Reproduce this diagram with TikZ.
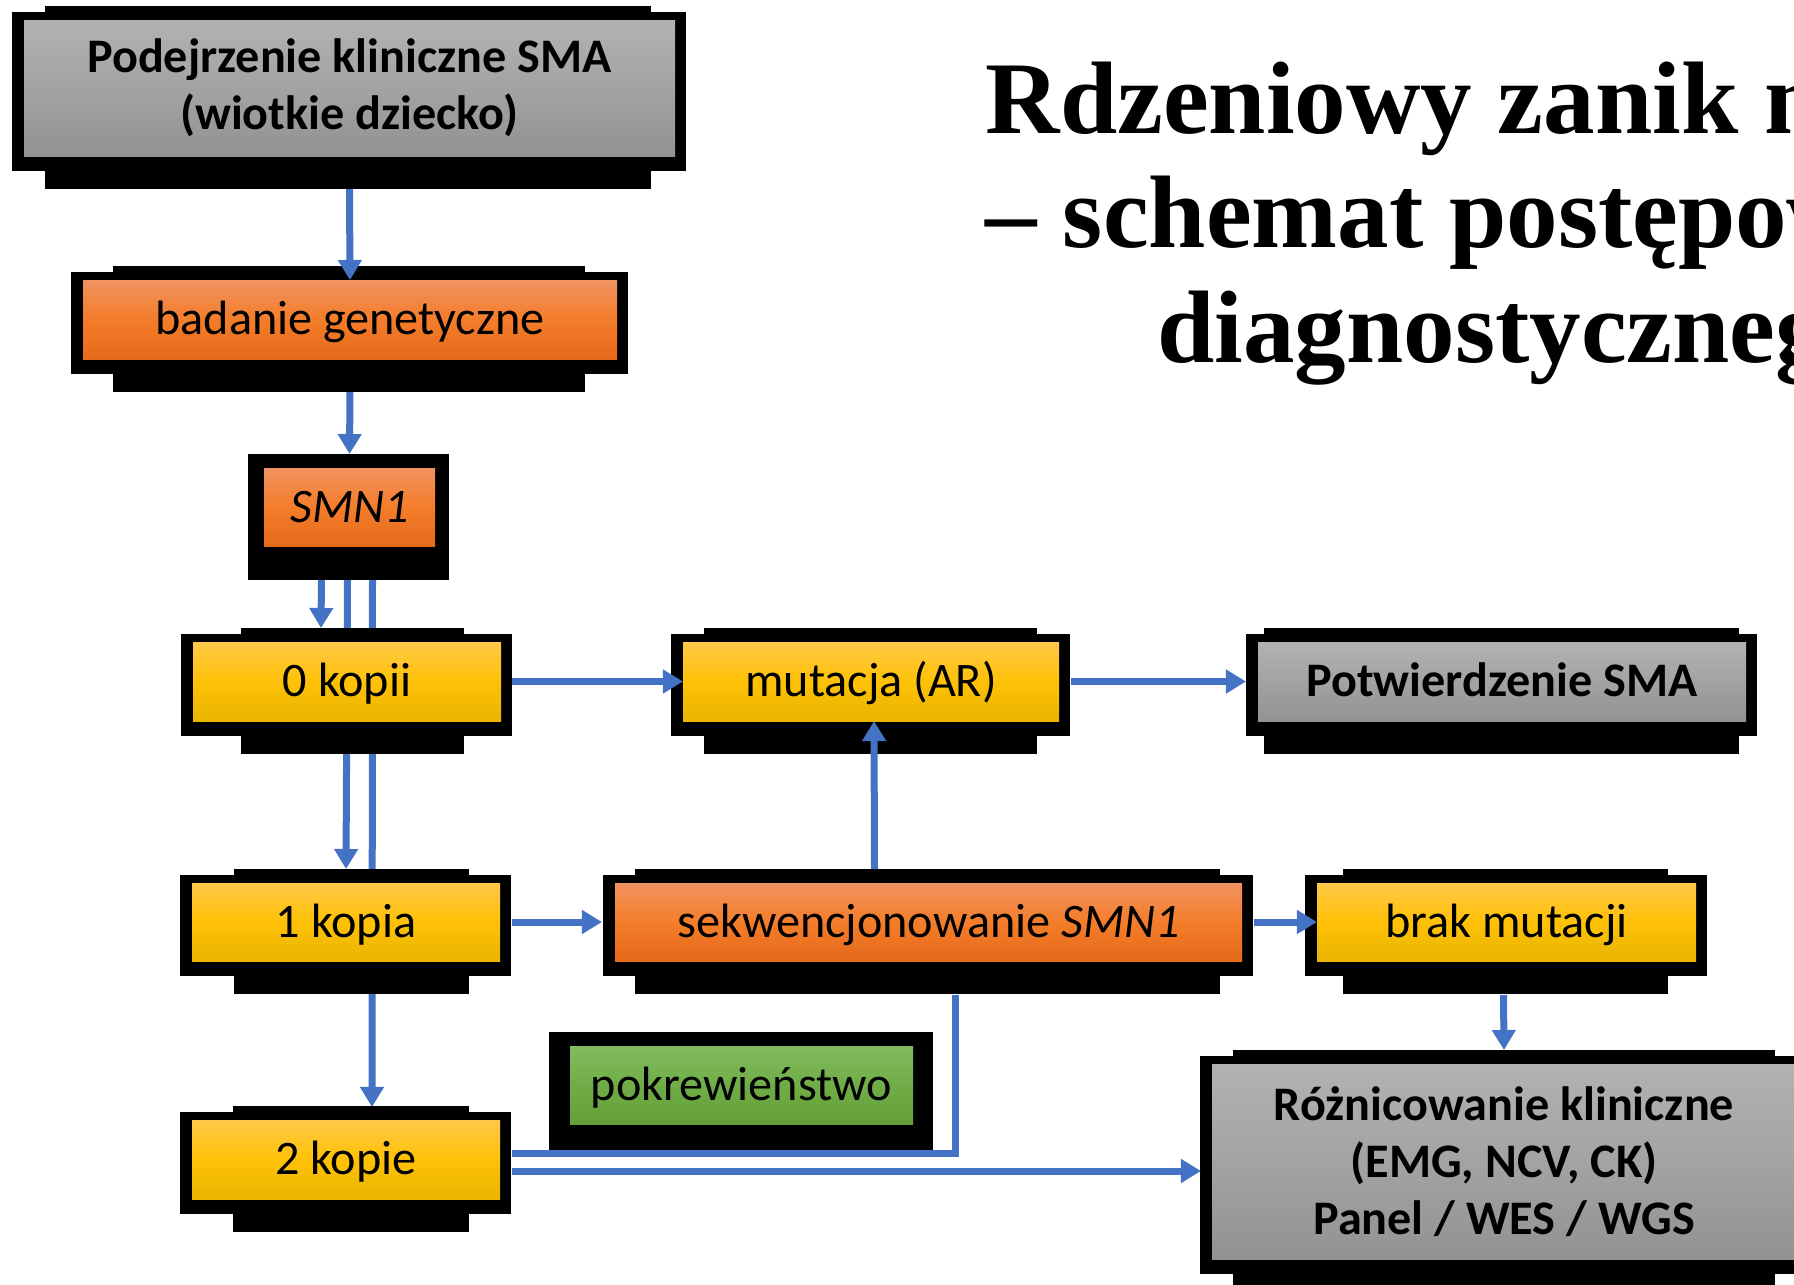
\documentclass[tikz,border=0pt]{standalone}
\usepackage{fontspec}
\setmainfont{Carlito}
\newfontfamily\titlefont{Liberation Serif}
\usetikzlibrary{calc, arrows.meta}

\newlength\unitpx
\setlength\unitpx{0.01cm}
\newcommand\smafont{\fontsize{13.7}{16.2}\selectfont}

\definecolor{smaBlue}{RGB}{68,114,196}
\definecolor{smaGrayTop}{RGB}{178,178,178}
\definecolor{smaGrayMid}{RGB}{163,163,163}
\definecolor{smaGrayBot}{RGB}{146,146,146}
\definecolor{smaOrangeTop}{RGB}{241,146,96}
\definecolor{smaOrangeMid}{RGB}{244,125,42}
\definecolor{smaOrangeBot}{RGB}{229,106,25}
\definecolor{smaYellowTop}{RGB}{255,200,72}
\definecolor{smaYellowMid}{RGB}{255,193,6}
\definecolor{smaYellowBot}{RGB}{232,181,0}
\definecolor{smaGreenTop}{RGB}{131,187,96}
\definecolor{smaGreenMid}{RGB}{112,173,71}
\definecolor{smaGreenBot}{RGB}{100,160,55}

\pgfdeclarelayer{links}
\pgfdeclarelayer{frames}
\pgfsetlayers{links,frames,main}

\begin{document}
\begin{tikzpicture}[x=1\unitpx, y=-1\unitpx,
    box/.style={rectangle, inner sep=0pt, outer sep=0pt, align=center, font=\smafont},
    oneline/.style={text height=11.6pt, text depth=2.8pt},
    dims/.style 2 args={minimum width=#1\unitpx, minimum height=#2\unitpx},
    graybox/.style={box, font=\smafont\bfseries, top color=smaGrayTop, bottom color=smaGrayBot, middle color=smaGrayMid},
    orangebox/.style={box, oneline, top color=smaOrangeTop, bottom color=smaOrangeBot, middle color=smaOrangeMid},
    yellowbox/.style={box, oneline, top color=smaYellowTop, bottom color=smaYellowBot, middle color=smaYellowMid},
    greenbox/.style={box, oneline, top color=smaGreenTop, bottom color=smaGreenBot, middle color=smaGreenMid},
    link/.style={draw=smaBlue, line width=7\unitpx},
    arr/.style={link, -{Triangle[width=6.5pt, length=5.7pt]}},
    title/.style={anchor=base, inner sep=0pt, font=\titlefont\bfseries\fontsize{29.3}{33}\selectfont}]
    \useasboundingbox (0,0) rectangle (1794,1284);
    \clip (0,0) rectangle (1794,1284);
    % title, cut off by the right edge
    \node [title] (title1) at (1518,133) {Rdzeniowy zanik mięśni};
    \node [title] (title2) at (1518,247) {– schemat postępowania};
    \node [title] (title3) at (1518,362) {diagnostycznego};
    % boxes
    \node [graybox,dims={651}{136}] (A) at (349.5,88) {Podejrzenie kliniczne SMA\\(wiotkie dziecko)};
    \node [orangebox,dims={534}{79}] (B) at (350,319.5) {badanie genetyczne};
    \node [orangebox,dims={171}{78}] (C) at (349.5,507) {\itshape SMN1};
    \node [yellowbox,dims={308}{79}] (D0) at (347,681.5) {0 kopii};
    \node [yellowbox,dims={376}{79}] (M) at (871,681.5) {mutacja (AR)};
    \node [graybox,oneline,dims={488}{79}] (P) at (1502,681.5) {Potwierdzenie SMA};
    \node [yellowbox,dims={308}{78}] (D1) at (346,922) {1 kopia};
    \node [orangebox,dims={627}{78}] (S) at (928.5,922) {sekwencjonowanie \textit{SMN1}};
    \node [yellowbox,dims={379}{78}] (N) at (1506.5,922) {brak mutacji};
    \node [greenbox,dims={343}{78}] (K) at (741.5,1085) {pokrewieństwo};
    \node [yellowbox,dims={308}{79}] (D2) at (346,1159.5) {2 kopie};
    \node [graybox,dims={584}{195}] (R) at (1504,1161.5) {Różnicowanie kliniczne\\(EMG, NCV, CK)\\Panel / WES / WGS};
    % black frames with their tabs
    \begin{pgfonlayer}{frames}
        \foreach \n/\l/\r in {A/21/24, B/30/32, D0/48/37, M/21/22, P/6/7, D1/42/31, S/20/22, N/26/28, D2/41/31, R/21/21} {
            \fill ([shift={(-12,-8)}]\n.north west) rectangle ([shift={(11,15)}]\n.south east);
            \fill ([shift={(\l,-14)}]\n.north west) rectangle ([shift={(-\r,33)}]\n.south east);
        }
        \fill ([shift={(-16,-14)}]C.north west) rectangle ([shift={(14,34)}]C.south east);
        \fill ([shift={(-21,-14)}]K.north west) rectangle ([shift={(20,26)}]K.south east);
    \end{pgfonlayer}
    % connectors
    \draw[arr] ([yshift=-33\unitpx]A.south) -- (B.north);
    \draw[arr] ([yshift=-33\unitpx]B.south) -- ([yshift=14\unitpx]C.north);
    \draw[arr] ([xshift=-28\unitpx,yshift=-34\unitpx]C.south) -- ([xshift=-26\unitpx,yshift=14\unitpx]D0.north);
    \begin{pgfonlayer}{links}
        \draw[arr] ([xshift=-2\unitpx,yshift=-34\unitpx]C.south) -- ([yshift=14\unitpx]D1.north);
        \draw[arr] ([xshift=23\unitpx,yshift=-34\unitpx]C.south) -- ([xshift=26\unitpx,yshift=13\unitpx]D2.north);
    \end{pgfonlayer}
    \draw[arr] ([xshift=11\unitpx]D0.east) -- (M.west);
    \draw[arr] ([xshift=12\unitpx]M.east) -- ([xshift=-12\unitpx]P.west);
    \draw[arr] ([xshift=12\unitpx]D1.east) -- ([xshift=-13\unitpx]S.west);
    \draw[arr] ([xshift=-54\unitpx,yshift=14\unitpx]S.north) -- ([xshift=3\unitpx]M.south);
    \draw[arr] ([xshift=12\unitpx]S.east) -- (N.west);
    \draw[arr] ([xshift=-3\unitpx,yshift=-34\unitpx]N.south) -- ([yshift=14\unitpx]R.north);
    \draw[link] ([xshift=26.5\unitpx,yshift=-34\unitpx]S.south) |- ([xshift=12\unitpx,yshift=6\unitpx]D2.east);
    \draw[arr] ([xshift=12\unitpx,yshift=-11.5\unitpx]D2.east) -- ([xshift=-11\unitpx,yshift=-9.5\unitpx]R.west);
\end{tikzpicture}
\end{document}
